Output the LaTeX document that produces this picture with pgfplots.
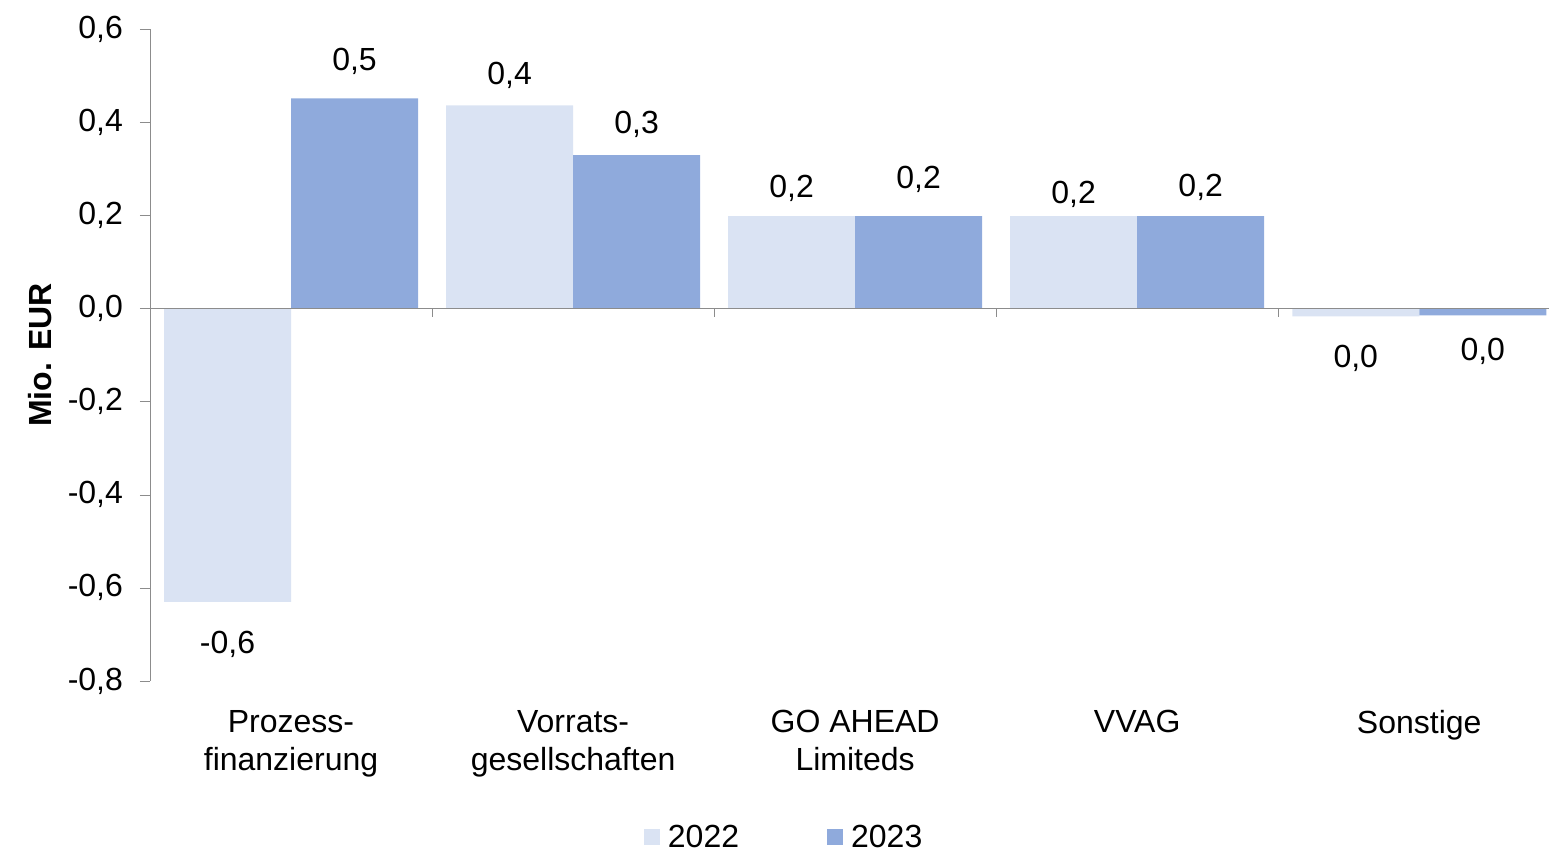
\documentclass[border=0pt]{standalone}
\usepackage{fontspec}
\setmainfont{Liberation Sans}
\usepackage{pgfplots}
\pgfplotsset{compat=1.18}
\usepackage{pgfplotstable}

\definecolor{c22}{HTML}{DAE3F3}
\definecolor{c23}{HTML}{8FAADC}
\definecolor{axgray}{HTML}{8C8C8C}
\newcommand{\chartfont}{\fontsize{16}{19.2}\selectfont}
% value label, baseline raised by #2 pt from the bar end
\protected\def\vl#1#2{\raisebox{#2pt}[0pt][0pt]{#1}}

% 2022
\pgfplotstableread{
x y lbl
0 -0.630 \vl{-0,6}{-25.7}
1 0.436 \vl{0,4}{10.6}
2 0.198 \vl{0,2}{9.1}
3 0.198 \vl{0,2}{6.1}
4 -0.017 \vl{0,0}{-25.4}
}\dataA
% 2023
\pgfplotstableread{
x y lbl
0 0.451 \vl{0,5}{13.8}
1 0.329 \vl{0,3}{10.8}
2 0.198 \vl{0,2}{14.0}
3 0.198 \vl{0,2}{9.8}
4 -0.015 \vl{0,0}{-22.7}
}\dataB

\begin{document}
\begin{tikzpicture}
\begin{axis}[
  scale only axis, width=699.5pt, height=326pt,
  xmin=-0.5, xmax=4.46, ymin=-0.8, ymax=0.6,
  axis lines*=left,
  x axis line style={draw=none},
  y axis line style={axgray},
  ybar=0pt, bar width=63.5pt,
  xtick={0,1,2,3,4},
  xticklabels={{Prozess-\\finanzierung},{Vorrats-\\gesellschaften},{GO AHEAD\\Limiteds},VVAG,Sonstige},
  xticklabel style={align=center, font=\chartfont, yshift=-6pt},
  major x tick style={draw=none},
  ytick={-0.8,-0.6,-0.4,-0.2,0,0.2,0.4,0.6},
  yticklabel style={font=\chartfont, xshift=-5pt,
    /pgf/number format/.cd, fixed, fixed zerofill, precision=1, use comma, assume math mode=true},
  major y tick style={axgray},
  tick align=outside, major tick length=5pt,
  ylabel={Mio. EUR},
  ylabel style={font=\chartfont\bfseries, at={(axis description cs:-0.0786,0.5)}, anchor=center},
  nodes near coords, point meta=explicit symbolic,
  every node near coord/.append style={font=\chartfont, inner sep=0pt, anchor=base},
  legend style={at={(axis description cs:0.454,-0.240)}, anchor=center, draw=none, fill=none,
    font=\chartfont, legend columns=2,
    /tikz/every odd column/.append style={column sep=2pt},
    /tikz/every even column/.append style={column sep=42pt}},
]
\addplot[fill=c22, draw=none,
  legend image code/.code={\fill[c22] (0pt,-4pt) rectangle (8pt,4pt);}]
  table[x=x, y=y, meta=lbl] {\dataA};
\addlegendentry{2022}
\addplot[fill=c23, draw=none,
  legend image code/.code={\fill[c23] (0pt,-4pt) rectangle (8pt,4pt);}]
  table[x=x, y=y, meta=lbl] {\dataB};
\addlegendentry{2023}
\draw[axgray] (axis cs:-0.5,0) -- (axis cs:4.46,0);
\pgfplotsinvokeforeach{0.5,1.5,2.5,3.5}{
  \draw[axgray] (axis cs:#1,0) -- ++(0pt,-4.5pt);
}
\end{axis}
\pgfresetboundingbox
\useasboundingbox (-75pt,-85pt) rectangle (699.5pt,340.5pt);
\end{tikzpicture}
\end{document}
